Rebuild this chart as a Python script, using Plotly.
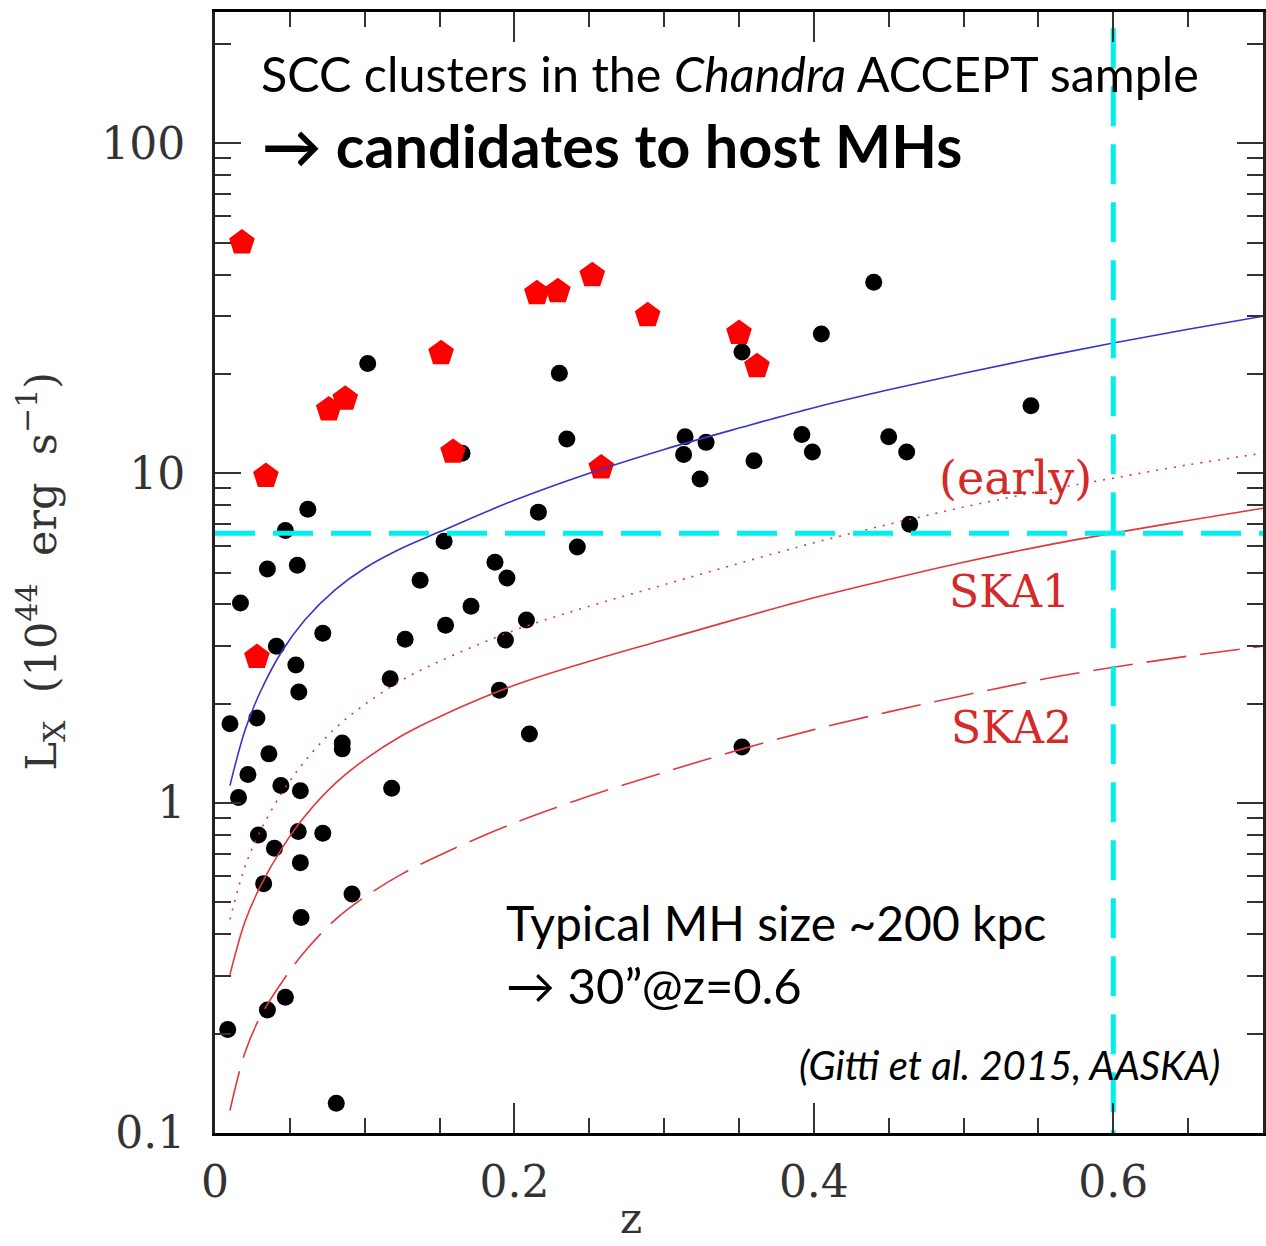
import plotly.graph_objects as go

# ---- cluster sample: redshift and X-ray luminosity (10^44 erg/s) ----
scc_z = [0.018, 0.034, 0.028, 0.076, 0.087, 0.151, 0.159, 0.215, 0.229,
         0.252, 0.258, 0.289, 0.350, 0.362]
scc_lx = [50.0, 9.8, 2.77, 15.6, 16.8, 23.1, 11.6, 35.1, 35.6,
          39.8, 10.4, 30.1, 26.6, 21.1]

other_z = [0.102, 0.230, 0.235, 0.165, 0.062, 0.047, 0.216, 0.153, 0.242,
           0.440, 0.405, 0.352, 0.545, 0.314, 0.328, 0.313, 0.324, 0.360,
           0.392, 0.399, 0.450, 0.462, 0.464, 0.035, 0.055, 0.017, 0.041,
           0.054, 0.056, 0.072, 0.137, 0.187, 0.195, 0.171, 0.154, 0.127,
           0.208, 0.194, 0.117, 0.190, 0.210, 0.118, 0.010, 0.028, 0.036,
           0.022, 0.0157, 0.044, 0.057, 0.085, 0.085, 0.029, 0.0397, 0.0556,
           0.072, 0.057, 0.0325, 0.0915, 0.0575, 0.047, 0.035, 0.0085, 0.081,
           0.352]
other_lx = [21.5, 20.1, 12.7, 11.5, 7.78, 6.7, 7.62, 6.22, 5.97,
            37.9, 26.4, 23.3, 16.0, 12.9, 12.4, 11.4, 9.6, 10.9,
            13.1, 11.6, 12.9, 11.6, 7.0, 5.12, 5.26, 4.04, 2.99,
            2.62, 2.17, 3.27, 4.74, 5.37, 4.81, 3.95, 3.46, 3.14,
            3.59, 3.12, 2.38, 2.20, 1.62, 1.11, 1.74, 1.81, 1.41,
            1.22, 1.04, 1.13, 1.09, 1.52, 1.46, 0.80, 0.73, 0.82,
            0.81, 0.66, 0.57, 0.53, 0.45, 0.258, 0.236, 0.206, 0.123,
            1.48]

# ---- detection limits vs redshift ----
curve_z = [0.01, 0.02, 0.03, 0.045, 0.06, 0.08, 0.10, 0.125, 0.15, 0.20,
           0.25, 0.30, 0.35, 0.40, 0.45, 0.50, 0.55, 0.60, 0.65, 0.70]
limit_current = [1.13, 1.66, 2.16, 2.90, 3.59, 4.42, 5.15, 5.93, 6.64, 8.28,
                 10.0, 11.8, 13.7, 15.8, 17.9, 20.1, 22.4, 24.8, 27.3, 29.9]
limit_early = [0.444, 0.641, 0.817, 1.08, 1.34, 1.68, 1.99, 2.36, 2.69, 3.34,
               3.95, 4.59, 5.33, 6.15, 7.00, 7.89, 8.79, 9.66, 10.6, 11.5]
limit_ska1 = [0.302, 0.437, 0.556, 0.733, 0.912, 1.143, 1.355, 1.603, 1.828, 2.275,
              2.69, 3.126, 3.63, 4.19, 4.76, 5.37, 5.98, 6.58, 7.19, 7.83]
limit_ska2 = [0.117, 0.175, 0.224, 0.288, 0.355, 0.442, 0.519, 0.610, 0.695, 0.871,
              1.05, 1.24, 1.45, 1.67, 1.89, 2.12, 2.36, 2.58, 2.79, 2.99]

# reference redshift and luminosity guides
guide_z = 0.6
guide_lx = 6.58
guide_top = 223.0

x_range = [0.0, 0.7]
y_range_lin = [0.1, 250.0]
y_ticks = [0.1, 1, 10, 100]
y_tick_text = ["0.1", "1", "10", "100"]
y_minor = [f * d for d in (0.1, 1, 10) for f in range(2, 10)] + [200]

SERIF = "DejaVu Serif"
SANS = "Lato"
RED_LINE = "#e0383c"
RED_TEXT = "#d42a2a"
CYAN = "#00f0f0"

fig = go.Figure()

fig.add_trace(go.Scatter(
    x=other_z, y=other_lx, mode="markers",
    marker=dict(symbol="circle", size=17, color="black", line=dict(width=0)),
    showlegend=False, hoverinfo="skip"))

fig.add_trace(go.Scatter(
    x=scc_z, y=scc_lx, mode="markers",
    marker=dict(symbol="pentagon", size=27, color="#ff0000", line=dict(width=0)),
    showlegend=False, hoverinfo="skip"))

for vals, dash, color in [
    (limit_current, "solid", "#3535c8"),
    (limit_early, "2px,7px", RED_LINE),
    (limit_ska1, "solid", RED_LINE),
    (limit_ska2, "40px,14px", RED_LINE),
]:
    fig.add_trace(go.Scatter(
        x=curve_z, y=vals, mode="lines",
        line=dict(color=color, width=1.6, dash=dash, shape="spline", smoothing=1.0),
        showlegend=False, hoverinfo="skip"))

# cyan guide lines
fig.add_trace(go.Scatter(
    x=[x_range[0], x_range[1]], y=[guide_lx, guide_lx], mode="lines",
    line=dict(color=CYAN, width=5, dash="40px,18px"),
    showlegend=False, hoverinfo="skip", cliponaxis=False))
fig.add_trace(go.Scatter(
    x=[guide_z, guide_z], y=[guide_top, y_range_lin[0]], mode="lines",
    line=dict(color=CYAN, width=5, dash="40px,18px"),
    showlegend=False, hoverinfo="skip"))

W, H = 1266, 1246
L, R, T, B = 215, 0, 12, 113
pw, ph = W - L - R, H - T - B


def px(x):
    return (x - L) / pw


def py(y):
    return (H - B - y) / ph


annotations = [
    dict(x=px(259), y=py(73), xanchor="left", yanchor="middle",
         text="SCC clusters in the <i>Chandra</i> ACCEPT sample",
         font=dict(family=SANS, size=48.5, color="black")),
    dict(x=px(260), y=py(145), xanchor="left", yanchor="middle",
         text="<b>→ candidates to host MHs</b>",
         font=dict(family=SANS, size=59.4, color="black")),
    dict(x=px(505), y=py(922), xanchor="left", yanchor="middle",
         text="Typical MH size ~200 kpc",
         font=dict(family=SANS, size=48, color="black")),
    dict(x=px(505), y=py(985), xanchor="left", yanchor="middle",
         text="→ 30”@z=0.6",
         font=dict(family=SANS, size=49, color="black")),
    dict(x=px(1225), y=py(1065), xanchor="right", yanchor="middle",
         text="<i>(Gitti et al. 2015, AASKA)</i>",
         font=dict(family=SANS, size=40, color="black")),
    dict(x=px(1018), y=py(478), xanchor="center", yanchor="middle",
         text="(early)", font=dict(family=SERIF, size=46, color=RED_TEXT)),
    dict(x=px(1012), y=py(592), xanchor="center", yanchor="middle",
         text="SKA1", font=dict(family=SERIF, size=44, color=RED_TEXT)),
    dict(x=px(1014), y=py(727), xanchor="center", yanchor="middle",
         text="SKA2", font=dict(family=SERIF, size=44, color=RED_TEXT)),
    dict(x=px(632), y=py(1245), xanchor="center", yanchor="bottom",
         text="z", font=dict(family=SERIF, size=42, color="#333333")),
    dict(x=px(40), y=py(571), xanchor="center", yanchor="middle", textangle=-90,
         text="L<sub>X</sub>  (10<sup>44</sup>  erg  s<sup>−1</sup>)",
         font=dict(family=SERIF, size=43, color="#333333")),
]
for a in annotations:
    a.update(xref="paper", yref="paper", showarrow=False)

tickfont = dict(family=SERIF, size=44, color="#333333")

fig.update_layout(
    width=W, height=H,
    margin=dict(l=L, r=R, t=T, b=B),
    paper_bgcolor="white", plot_bgcolor="white",
    showlegend=False,
    annotations=annotations,
    xaxis=dict(
        range=x_range, tick0=0, dtick=0.2,
        ticks="inside", ticklen=30, tickwidth=1.5, tickcolor="#333333",
        minor=dict(tick0=0, dtick=0.05, ticks="inside", ticklen=15,
                   tickwidth=1.5, tickcolor="#333333"),
        showline=True, linecolor="black", linewidth=3, mirror="ticks",
        showgrid=False, zeroline=False,
        tickfont=tickfont, ticklabelstandoff=8,
    ),
    yaxis=dict(
        type="log", range=[-1, 2.39794],
        tickmode="array", tickvals=y_ticks, ticktext=y_tick_text,
        ticks="inside", ticklen=26, tickwidth=1.5, tickcolor="#333333",
        minor=dict(tickmode="array", tickvals=y_minor, ticks="inside",
                   ticklen=16, tickwidth=1.5, tickcolor="#333333"),
        showline=True, linecolor="#222222", linewidth=3, mirror="ticks",
        showgrid=False, zeroline=False,
        tickfont=tickfont, ticklabelstandoff=18,
    ),
)

fig.write_html("out.html")
